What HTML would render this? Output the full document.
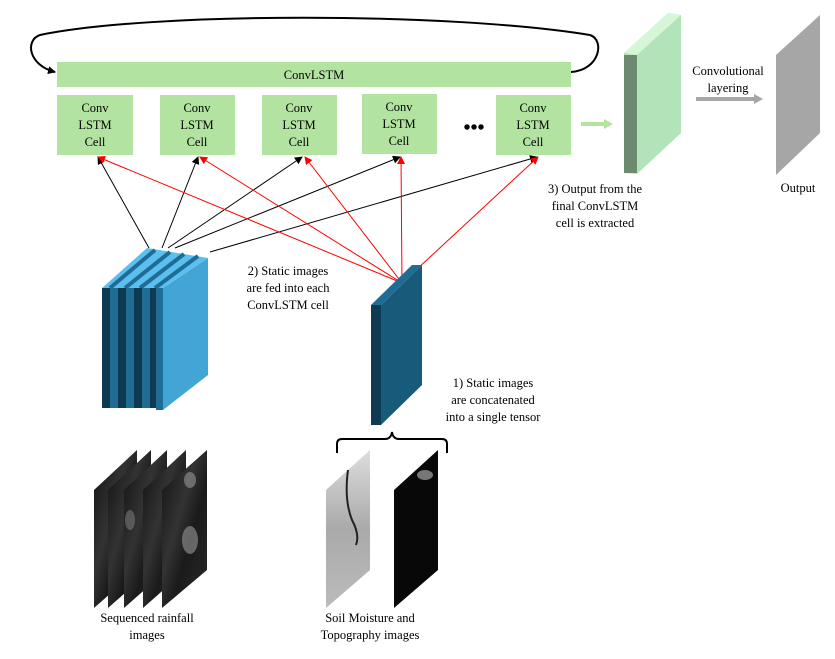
<!DOCTYPE html>
<html><head><meta charset="utf-8"><style>
html,body{margin:0;padding:0;background:#fff;}
svg text{font-family:"Liberation Serif",serif;font-size:12.5px;fill:#000;}
</style></head><body>
<svg width="835" height="654" viewBox="0 0 835 654" xmlns="http://www.w3.org/2000/svg">
<defs>
<marker id="ab" markerWidth="8" markerHeight="8" refX="7" refY="4" orient="auto" markerUnits="userSpaceOnUse"><path d="M0,0 L8,4 L0,8 z" fill="#000"/></marker>
<marker id="ar" markerWidth="8" markerHeight="8" refX="7" refY="4" orient="auto" markerUnits="userSpaceOnUse"><path d="M0,0 L8,4 L0,8 z" fill="#f00"/></marker>
<linearGradient id="rg" x1="0" y1="0" x2="1" y2="1"><stop offset="0" stop-color="#111"/><stop offset="0.4" stop-color="#333"/><stop offset="0.6" stop-color="#1a1a1a"/><stop offset="1" stop-color="#2a2a2a"/></linearGradient>
<linearGradient id="sg" x1="0" y1="0" x2="0" y2="1"><stop offset="0" stop-color="#ddd"/><stop offset="0.5" stop-color="#aaa"/><stop offset="1" stop-color="#bbb"/></linearGradient>
</defs>
<!-- loop arc -->
<path d="M571,72 C600,70 605,40 590,35 C450,12 150,12 40,35 C25,40 28,65 55,72" fill="none" stroke="#000" stroke-width="2" marker-end="url(#ab)"/>
<rect x="57" y="62" width="514" height="25" fill="#b3e3a1"/>
<text x="314" y="79" text-anchor="middle">ConvLSTM</text>
<g fill="#b3e3a1">
<rect x="57" y="95" width="76" height="60"/><rect x="160" y="95" width="75" height="60"/><rect x="262" y="95" width="75" height="60"/><rect x="362" y="94" width="75" height="60"/><rect x="496" y="95" width="75" height="60"/>
</g>
<g text-anchor="middle">
<text x="95" y="112">Conv</text><text x="95" y="129">LSTM</text><text x="95" y="146">Cell</text>
<text x="197" y="112">Conv</text><text x="197" y="129">LSTM</text><text x="197" y="146">Cell</text>
<text x="299" y="112">Conv</text><text x="299" y="129">LSTM</text><text x="299" y="146">Cell</text>
<text x="399" y="111">Conv</text><text x="399" y="128">LSTM</text><text x="399" y="145">Cell</text>
<text x="533" y="112">Conv</text><text x="533" y="129">LSTM</text><text x="533" y="146">Cell</text>
</g>
<text x="474" y="134" text-anchor="middle" style="font-size:20px;font-weight:bold">•••</text>
<!-- green arrow -->
<line x1="581" y1="124" x2="606" y2="124" stroke="#b3e3a1" stroke-width="4"/><path d="M604,119 L613,124 L604,129z" fill="#b3e3a1"/>
<!-- green panel -->
<polygon points="624,53 668,13 681,15 681,133 637,174 624,173" fill="#b3e3b8"/>
<polygon points="624,53 668,13 681,15 637,55" fill="#d5f7d8"/>
<rect x="624" y="55" width="13" height="118" fill="#6b8a70"/>
<!-- gray arrow -->
<line x1="696" y1="99" x2="755" y2="99" stroke="#a6a6a6" stroke-width="4"/><path d="M754,94 L763,99 L754,104z" fill="#a6a6a6"/>
<text x="728" y="75" text-anchor="middle">Convolutional</text><text x="728" y="92" text-anchor="middle">layering</text>
<polygon points="776,55 820,15 820,133 776,175" fill="#a6a6a6"/>
<text x="798" y="192" text-anchor="middle">Output</text>
<g text-anchor="middle"><text x="595" y="193">3) Output from the</text><text x="595" y="210">final ConvLSTM</text><text x="595" y="227">cell is extracted</text></g>
<!-- black lines -->
<g stroke="#000" stroke-width="1" marker-end="url(#ab)">
<line x1="149" y1="248" x2="98" y2="157"/><line x1="162" y1="248" x2="198" y2="157"/><line x1="168" y1="248" x2="302" y2="157"/><line x1="175" y1="248" x2="400" y2="157"/><line x1="210" y1="252" x2="537" y2="157"/>
</g>
<g stroke="#f00" stroke-width="1" marker-end="url(#ar)">
<line x1="402" y1="283" x2="98" y2="157"/><line x1="402" y1="283" x2="200" y2="157"/><line x1="402" y1="283" x2="305" y2="157"/><line x1="402" y1="283" x2="401" y2="157"/><line x1="402" y1="283" x2="538" y2="157"/>
</g>
<!-- rainfall block -->
<polygon points="163,288 208,258 208,375 163,410" fill="#42a5d5"/>
<polygon points="102,288 147,248 208,258 163,288" fill="#5bc0f0"/>
<g stroke="#1f6d94" stroke-width="4"><line x1="110" y1="288" x2="155" y2="250"/><line x1="125" y1="288" x2="170" y2="252"/><line x1="140" y1="288" x2="184" y2="254"/><line x1="155" y1="288" x2="198" y2="256"/></g>
<rect x="102" y="288" width="8" height="120" fill="#0e3a52"/>
<rect x="110" y="288" width="8" height="120" fill="#1f6d94"/>
<rect x="118" y="288" width="8" height="120" fill="#0e3a52"/>
<rect x="126" y="288" width="8" height="120" fill="#1f6d94"/>
<rect x="134" y="288" width="8" height="120" fill="#0e3a52"/>
<rect x="142" y="288" width="8" height="120" fill="#1f6d94"/>
<rect x="150" y="288" width="6" height="120" fill="#0e3a52"/>
<rect x="156" y="288" width="7" height="122" fill="#1f6d94"/>
<!-- static block -->
<polygon points="381,305 422,265 422,385 381,425" fill="#175a7a"/>
<polygon points="371,305 412,265 422,265 381,305" fill="#1f6d94"/>
<rect x="371" y="305" width="10" height="120" fill="#0e3a52"/>
<g text-anchor="middle"><text x="288" y="275">2) Static images</text><text x="288" y="292">are fed into each</text><text x="288" y="309">ConvLSTM cell</text></g>
<g text-anchor="middle"><text x="493" y="387">1) Static images</text><text x="493" y="404">are concatenated</text><text x="493" y="421">into a single tensor</text></g>
<!-- brace -->
<path d="M337,453 L337,444 Q337,439 342,439 L385,439 Q391,439 392,432 Q393,439 399,439 L442,439 Q447,439 447,444 L447,453" fill="none" stroke="#000" stroke-width="2"/>
<!-- rainfall images -->
<g>
<polygon points="94,490 137,450 137,570 94,608" fill="url(#rg)"/>
<polygon points="108,490 151,450 151,570 108,608" fill="url(#rg)"/>
<polygon points="124,490 167,450 167,570 124,608" fill="url(#rg)"/>
<polygon points="143,490 186,450 186,570 143,608" fill="url(#rg)"/>
<polygon points="162,490 207,450 207,570 162,608" fill="url(#rg)"/>
<ellipse cx="190" cy="540" rx="8" ry="14" fill="#999" opacity="0.6"/><ellipse cx="190" cy="480" rx="6" ry="8" fill="#aaa" opacity="0.5"/>
<ellipse cx="130" cy="520" rx="5" ry="10" fill="#888" opacity="0.5"/>
</g>
<!-- soil images -->
<polygon points="326,490 370,450 370,570 326,608" fill="url(#sg)"/>
<path d="M348,470 Q344,500 352,520 Q360,535 356,545" stroke="#222" stroke-width="2" fill="none"/>
<polygon points="394,490 438,450 438,570 394,608" fill="#080808"/>
<ellipse cx="425" cy="475" rx="8" ry="5" fill="#777"/>
<g text-anchor="middle"><text x="147" y="622">Sequenced rainfall</text><text x="147" y="639">images</text><text x="370" y="622">Soil Moisture and</text><text x="370" y="639">Topography images</text></g>
</svg>
</body></html>
